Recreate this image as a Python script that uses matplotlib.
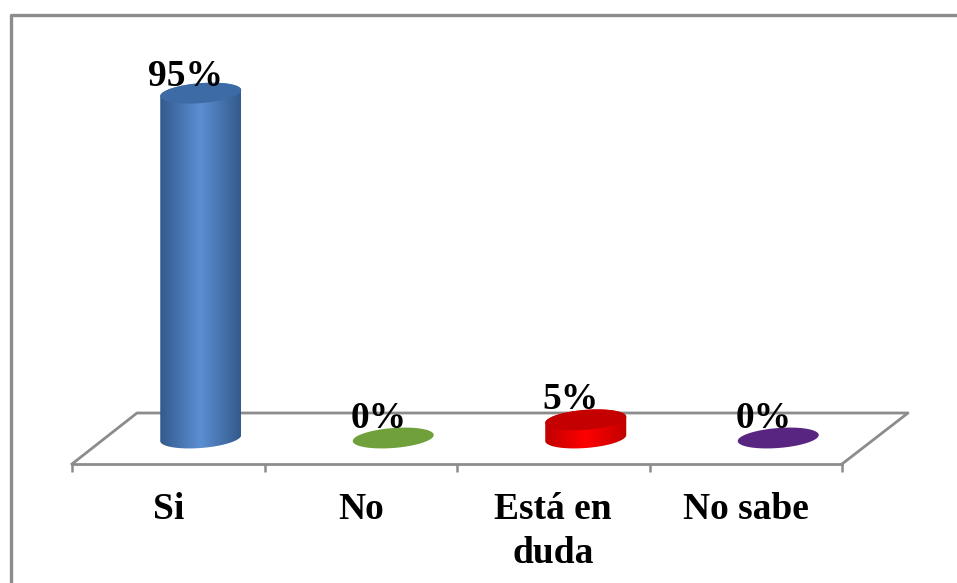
# _*_coding:UTF-8_*_
import numpy as np
import matplotlib

matplotlib.use("Agg")
import matplotlib.pyplot as plt
from matplotlib.colors import LinearSegmentedColormap
from matplotlib.lines import Line2D
from matplotlib.patches import Polygon

categories = ["Si", "No", "Está en\nduda", "No sabe"]
values = [95, 0, 5, 0]
value_labels = ["95%", "0%", "5%", "0%"]

side_colors = [("#335a8c", "#5b8fd2"), ("#5f8a34", "#76a53f"), ("#c00000", "#ff0000"), ("#4a2370", "#5c2a85")]
top_colors = ["#3d6ba6", "#70a03c", "#c40000", "#582680"]

W, H = 957, 583
GRAY = "#8c8c8c"
PX_PER_UNIT = 3.63
PX_PER_CAT = 192.5
DEPTH_X = 32.5 / PX_PER_CAT
DEPTH_Y = 26 / PX_PER_UNIT
HALF_W = 40.5 / PX_PER_CAT
HALF_H = 10.0 / PX_PER_UNIT
TILT = 3.0 / PX_PER_UNIT

plt.rcParams["font.family"] = ["Liberation Serif", "DejaVu Serif"]
plt.rcParams["font.weight"] = "bold"


def fig_line(fig, xs, ys, lw=2.0):
    # 像素坐标转成 figure 坐标画线
    fig.add_artist(Line2D(np.array(xs) / W, 1 - np.array(ys) / H, color=GRAY, lw=lw, zorder=0))


def ellipse_points(cx, cy, start, stop):
    t = np.linspace(start, stop, 80)
    return np.column_stack((cx + HALF_W * np.cos(t), cy + HALF_H * np.sin(t) + TILT * np.cos(t)))


fig = plt.figure(figsize=(W / 100, H / 100), dpi=100)
ax = fig.add_axes([72 / W, 1 - 464 / H, 770 / W, 449 / H])
ax.patch.set_alpha(0)

# 外框和地板
fig_line(fig, [957, 11, 11], [15, 15, 583], lw=2.4)
fig_line(fig, [72, 137, 908, 842], [464, 413, 413, 464])

for i, (value, label) in enumerate(zip(values, value_labels)):
    cx = i + 0.5 + DEPTH_X
    base = DEPTH_Y
    top = base + value
    if value > 0:
        outline = np.vstack((ellipse_points(cx, base, np.pi, 2 * np.pi), ellipse_points(cx, top, 0, np.pi)))
        cmap = LinearSegmentedColormap.from_list("side", [side_colors[i][0], side_colors[i][1], side_colors[i][0]])
        image = ax.imshow(
            np.linspace(0, 1, 200).reshape(1, -1),
            cmap=cmap,
            extent=(cx - HALF_W, cx + HALF_W, base - 4, top + 4),
            aspect="auto",
            zorder=3,
        )
        patch = Polygon(outline, closed=True, transform=ax.transData, fc="none", ec="none")
        ax.add_patch(patch)
        image.set_clip_path(patch)
    ax.add_patch(Polygon(ellipse_points(cx, top, 0, 2 * np.pi), closed=True, fc=top_colors[i], ec="none", zorder=4))
    ax.annotate(
        label,
        xy=(cx - 15 / PX_PER_CAT, top),
        xytext=(0, 5.5 if value > 50 else 7.5),
        textcoords="offset points",
        ha="center",
        va="baseline",
        fontsize=27,
        fontweight="bold",
        color="black",
        zorder=5,
    )

ax.set_xlim(0, 4)
ax.set_ylim(0, 449 / PX_PER_UNIT)
ax.set_yticks([])
ax.set_xticks(range(5))
ax.set_xticklabels([])
ax.set_xticks(np.arange(4) + 0.5, minor=True)
ax.set_xticklabels(categories, minor=True, fontsize=27, fontweight="bold", linespacing=1.33)
ax.tick_params(axis="x", which="major", length=6, width=1.8, color=GRAY)
ax.tick_params(axis="x", which="minor", length=0, pad=20)
for side in ("top", "left", "right"):
    ax.spines[side].set_visible(False)
ax.spines["bottom"].set_color(GRAY)
ax.spines["bottom"].set_linewidth(2.0)

fig.savefig("out.png", dpi=100)
plt.close(fig)
